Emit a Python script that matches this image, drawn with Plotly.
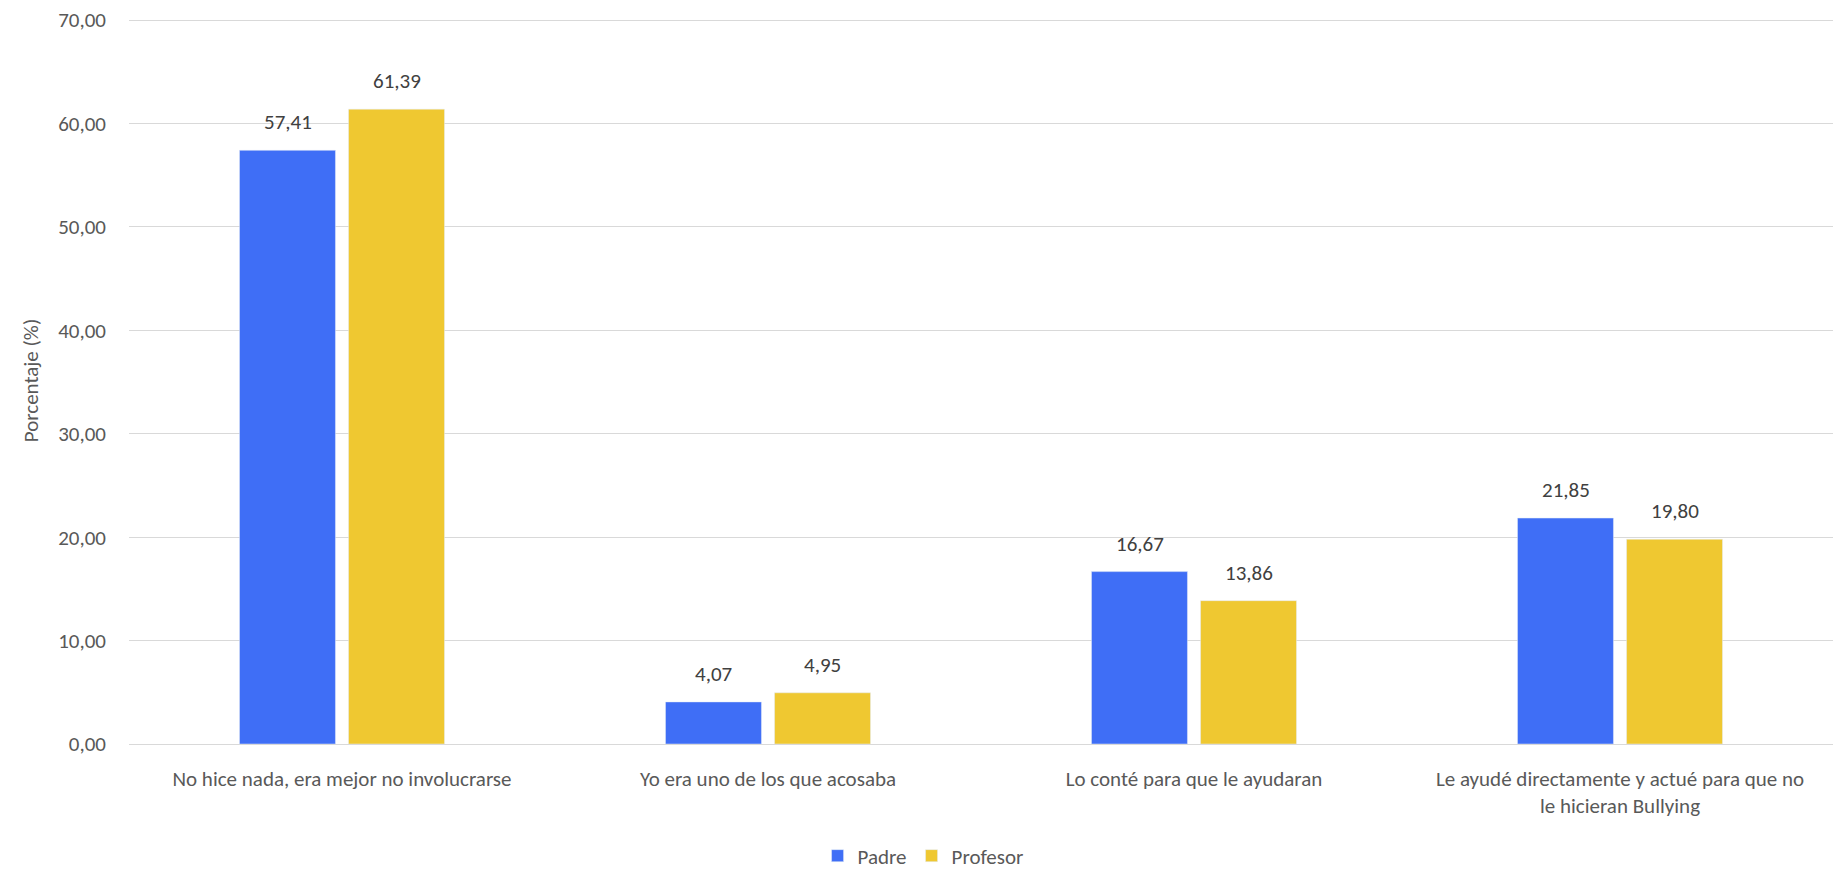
import plotly.graph_objects as go

categories = [
    "No hice nada, era mejor no involucrarse",
    "Yo era uno de los que acosaba",
    "Lo conté para que le ayudaran",
    "Le ayudé directamente y actué para que no<br>le hicieran Bullying",
]
padre = [57.41, 4.07, 16.67, 21.85]
profesor = [61.39, 4.95, 13.86, 19.80]
y_ticks = [0, 10, 20, 30, 40, 50, 60, 70]

FONT = "Calibri, Carlito, Lato, sans-serif"
FS = 21

fig = go.Figure()
fig.add_trace(go.Bar(name="Padre", x=categories, y=padre, marker_color="#3F6EF6"))
fig.add_trace(go.Bar(name="Profesor", x=categories, y=profesor, marker_color="#EFC831"))

# data labels as annotations above each bar
for vals, xs in ((padre, -54.5), (profesor, 54.5)):
    for c, v in zip(categories, vals):
        fig.add_annotation(
            x=c, y=v, xref="x", yref="y", text=f"{v:.2f}".replace(".", ","),
            showarrow=False, xshift=xs, yshift=28, yanchor="middle",
            font=dict(size=FS, color="#404040", family=FONT),
        )

fig.update_layout(
    width=1846, height=869,
    separators=",.",
    barmode="group", bargap=0.488, bargroupgap=0.12,
    plot_bgcolor="white", paper_bgcolor="white",
    margin=dict(l=121, r=21, t=9, b=133, autoexpand=False),
    font=dict(family=FONT, size=FS, color="#595959"),
    legend=dict(orientation="h", xref="container", x=0.4957, xanchor="center",
                yref="container", y=1 - 848 / 869, yanchor="middle",
                font=dict(size=FS, color="#595959"), traceorder="normal",
                itemwidth=30, tracegroupgap=0),
    showlegend=True,
)
fig.update_yaxes(
    range=[0, 70.3], tickvals=y_ticks, tickformat=".2f", ticklabeloverflow="allow",
    showgrid=True, gridcolor="#D9D9D9", gridwidth=1.3,
    zeroline=True, zerolinecolor="#D9D9D9", zerolinewidth=1.3,
    ticks="", ticklabelstandoff=22, tickfont=dict(size=FS, color="#595959"),
    title=dict(text="Porcentaje (%)", font=dict(size=FS, color="#595959"), standoff=13),
)
fig.update_xaxes(showline=False, ticks="", ticklabelstandoff=20,
                 tickfont=dict(size=FS, color="#595959"))

fig.write_html("out.html")
